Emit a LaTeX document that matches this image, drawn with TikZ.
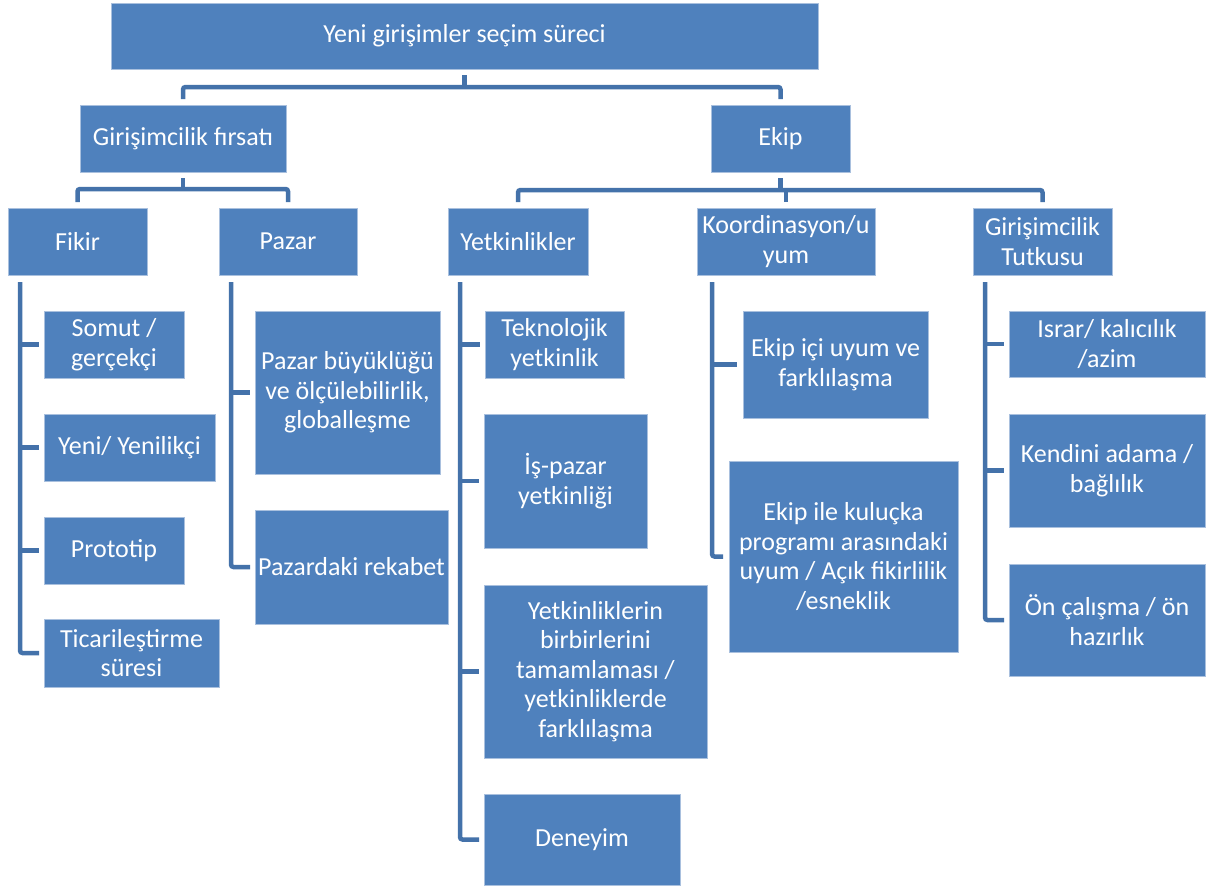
\documentclass[tikz,border=0pt]{standalone}
\usepackage{fontspec}
\setmainfont{Carlito}
\usetikzlibrary{calc}
\definecolor{boxblue}{HTML}{4F81BD}
\definecolor{boxedge}{HTML}{A9C0DE}
\definecolor{linkblue}{HTML}{4472AA}
\tikzset{
  box/.style={fill=boxblue, draw=boxedge, line width=0.7pt, text=white, align=center,
    inner sep=0pt, outer sep=0pt, anchor=north west,
    font=\fontsize{26}{29.5}\selectfont},
  conn/.style={draw=linkblue, line width=4.5pt, rounded corners=2.5pt}
}
\newcommand\nodebox[6]{\node[box, minimum width={(#4-#2)*1pt}, minimum height={(#5-#3)*1pt}] (#1) at (#2,#3) {#6};}
\begin{document}
\begin{tikzpicture}[x=1pt,y=-1pt]
\useasboundingbox[fill=white] (0,0) rectangle (1206,889);
% level 0
\nodebox{top}{111}{3}{818}{69}{Yeni girişimler seçim süreci}
% level 1
\nodebox{gf}{80}{105}{286}{172}{Girişimcilik fırsatı}
\nodebox{ekip}{711}{105}{850}{172}{Ekip}
% level 2
\nodebox{fikir}{8}{208}{147}{275}{Fikir}
\nodebox{pazar}{219}{208}{357}{275}{Pazar}
\nodebox{yetk}{448}{208}{588}{275}{Yetkinlikler}
\nodebox{koord}{697}{208}{875}{275}{Koordinasyon/u\\yum}
\nodebox{tutku}{973}{208}{1112}{275}{Girişimcilik\\Tutkusu}
% level 3
\nodebox{somut}{44}{311}{184}{378}{Somut /\\gerçekçi}
\nodebox{yeni}{44}{414}{215}{481}{Yeni/ Yenilikçi}
\nodebox{proto}{44}{517}{184}{584}{Prototip}
\nodebox{ticari}{44}{619}{219}{687}{Ticarileştirme\\süresi}
\nodebox{pbuy}{255}{311}{440}{474}{Pazar büyüklüğü\\ve ölçülebilirlik,\\globalleşme}
\nodebox{prek}{255}{510}{448}{624}{Pazardaki rekabet}
\nodebox{tekno}{485}{311}{624}{378}{Teknolojik\\yetkinlik}
\nodebox{ispazar}{484}{414}{647}{548}{İş-pazar\\yetkinliği}
\nodebox{ytam}{484}{585}{707}{758}{Yetkinliklerin\\birbirlerini\\tamamlaması /\\yetkinliklerde\\farklılaşma}
\nodebox{deneyim}{484}{794}{680}{885}{Deneyim}
\nodebox{ekipici}{743}{311}{928}{418}{Ekip içi uyum ve\\farklılaşma}
\nodebox{kulucka}{729}{461}{958}{652}{Ekip ile kuluçka\\programı arasındaki\\uyum / Açık fikirlilik\\/esneklik}
\nodebox{israr}{1009}{311}{1205}{377}{Israr/ kalıcılık\\/azim}
\nodebox{kendini}{1009}{414}{1205}{527}{Kendini adama /\\bağlılık}
\nodebox{onc}{1009}{564}{1205}{676}{Ön çalışma / ön\\hazırlık}
% top tree
\coordinate (b1) at ([yshift=-18pt]top.south);
\draw[conn] ([yshift=-6pt]top.south) -- (b1);
\draw[conn] ([yshift=6pt]gf.north) |- (b1) -| ([yshift=6pt]ekip.north);
% gf tree
\coordinate (b2) at ([yshift=-17pt]gf.south);
\draw[conn] ([yshift=-6pt]gf.south) -- (b2);
\draw[conn] ([yshift=6pt]fikir.north) |- (b2) -| ([yshift=6pt]pazar.north);
% ekip tree
\coordinate (b3) at ([yshift=-18pt]ekip.south);
\draw[conn] ([yshift=-6pt]ekip.south) -- (b3);
\draw[conn] ([yshift=6pt]yetk.north) |- (b3) -| ([yshift=6pt]tutku.north);
\draw[conn] ([yshift=6pt]koord.north) -- (koord.north |- b3);
% fikir children
\coordinate (fl) at ([shift={(12pt,-7pt)}]fikir.south west);
\draw[conn] (fl) |- ([xshift=-5pt]ticari.west);
\foreach \c in {somut,yeni,proto} \draw[conn] (fl |- \c.west) -- ([xshift=-5pt]\c.west);
% pazar children
\coordinate (pl) at ([shift={(12pt,-7pt)}]pazar.south west);
\draw[conn] (pl) |- ([xshift=-5pt]prek.west);
\draw[conn] (pl |- pbuy.west) -- ([xshift=-5pt]pbuy.west);
% yetk children
\coordinate (yl) at ([shift={(12pt,-7pt)}]yetk.south west);
\draw[conn] (yl) |- ([xshift=-5pt]deneyim.west);
\foreach \c in {tekno,ispazar,ytam} \draw[conn] (yl |- \c.west) -- ([xshift=-5pt]\c.west);
% koord children
\coordinate (kl) at ([shift={(15pt,-7pt)}]koord.south west);
\draw[conn] (kl) |- ([xshift=-6pt]kulucka.west);
\draw[conn] (kl |- ekipici.west) -- ([xshift=-6pt]ekipici.west);
% tutku children
\coordinate (tl) at ([shift={(12pt,-7pt)}]tutku.south west);
\draw[conn] (tl) |- ([xshift=-5pt]onc.west);
\foreach \c in {israr,kendini} \draw[conn] (tl |- \c.west) -- ([xshift=-5pt]\c.west);
\end{tikzpicture}
\end{document}
